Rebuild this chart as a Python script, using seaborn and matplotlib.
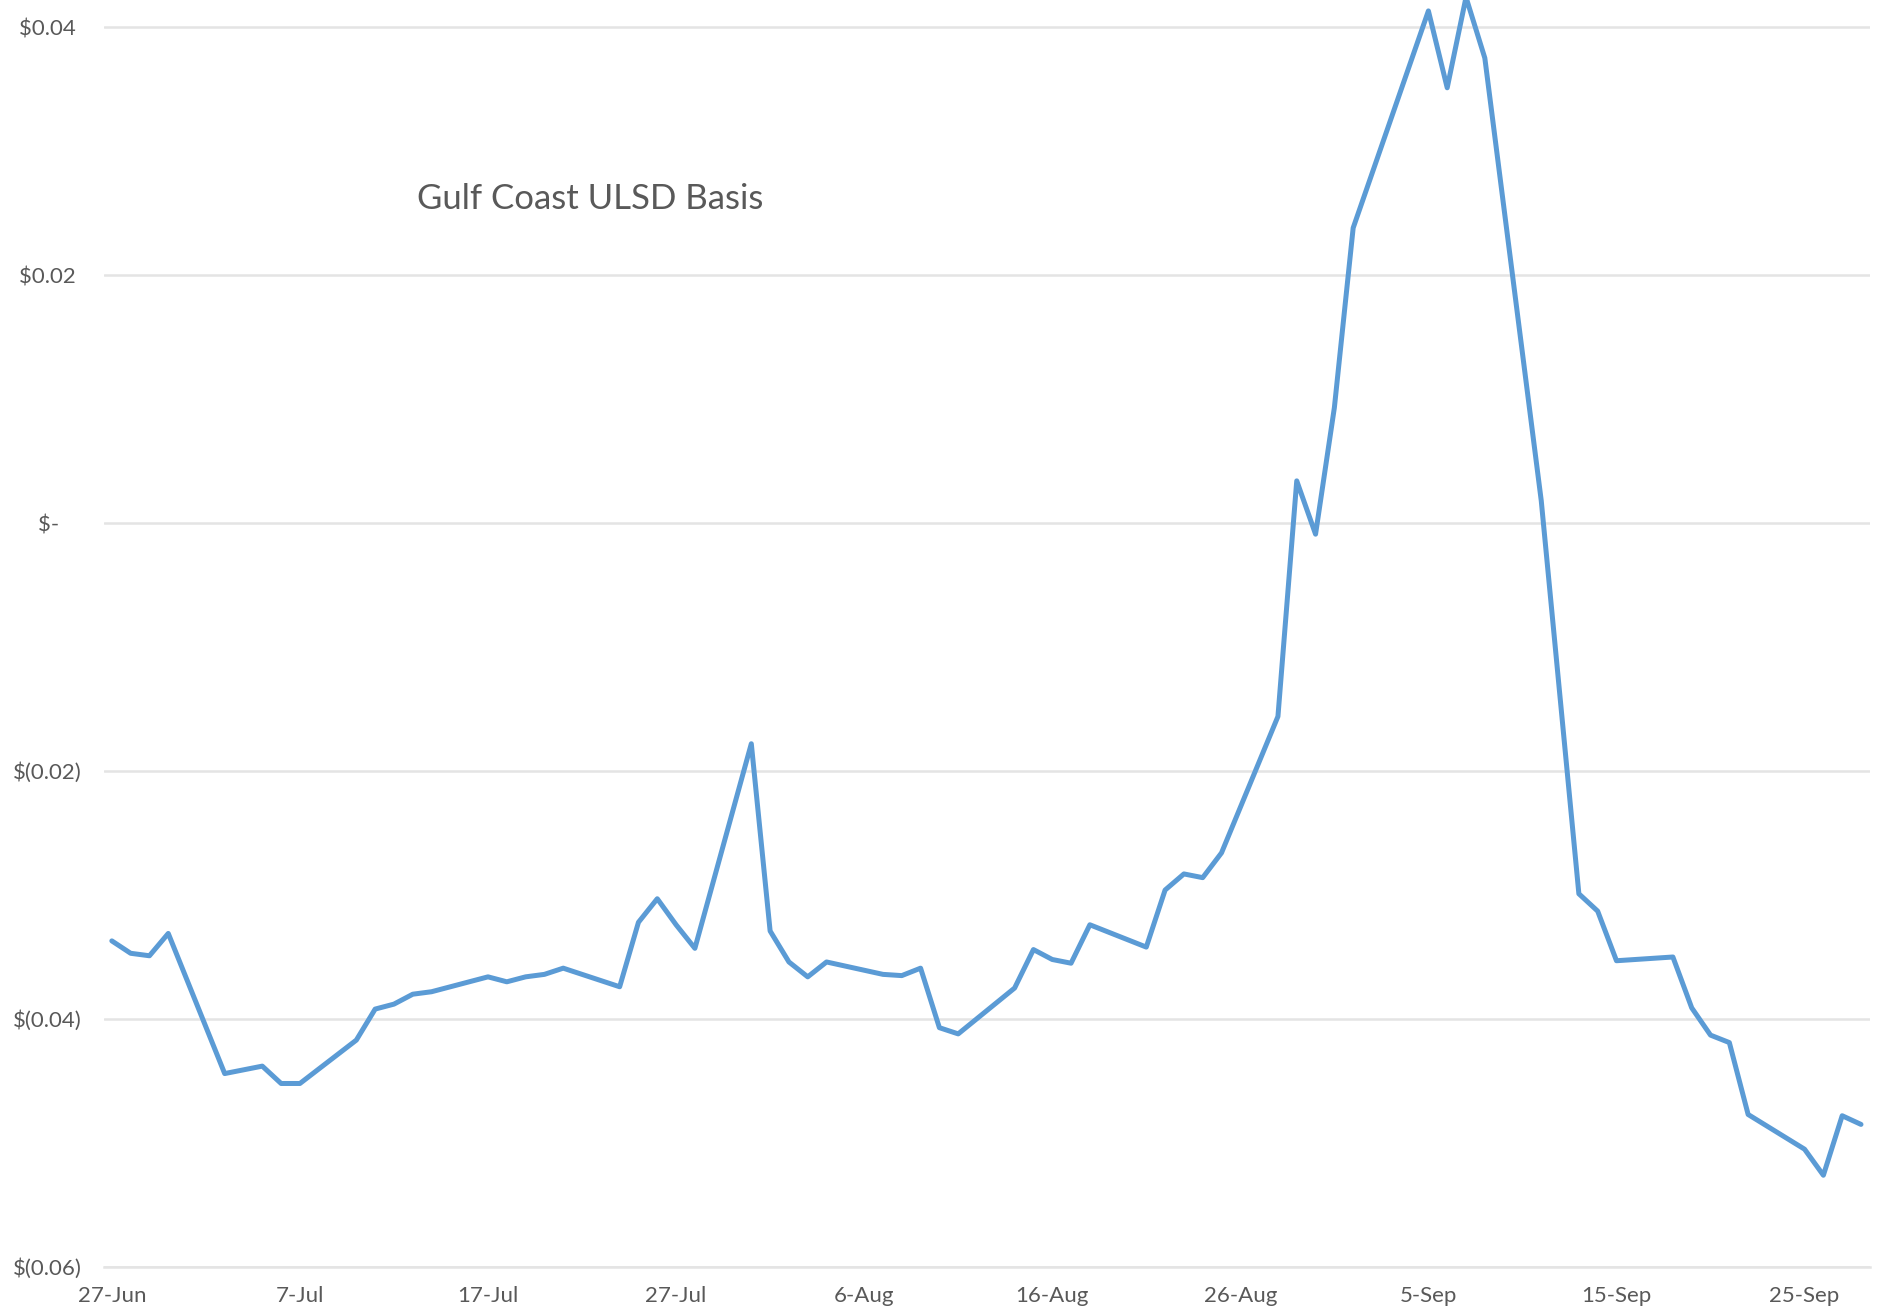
import matplotlib
matplotlib.use("Agg")
import matplotlib.pyplot as plt
import seaborn as sns
import pandas as pd

# ---- data (2017 business days) ----
dates = [
    "2017-06-27", "2017-06-28", "2017-06-29", "2017-06-30",
    "2017-07-03", "2017-07-05", "2017-07-06", "2017-07-07",
    "2017-07-10", "2017-07-11", "2017-07-12", "2017-07-13", "2017-07-14",
    "2017-07-17", "2017-07-18", "2017-07-19", "2017-07-20", "2017-07-21",
    "2017-07-24", "2017-07-25", "2017-07-26", "2017-07-27", "2017-07-28",
    "2017-07-31", "2017-08-01", "2017-08-02", "2017-08-03", "2017-08-04",
    "2017-08-07", "2017-08-08", "2017-08-09", "2017-08-10", "2017-08-11",
    "2017-08-14", "2017-08-15", "2017-08-16", "2017-08-17", "2017-08-18",
    "2017-08-21", "2017-08-22", "2017-08-23", "2017-08-24", "2017-08-25",
    "2017-08-28", "2017-08-29", "2017-08-30", "2017-08-31", "2017-09-01",
    "2017-09-05", "2017-09-06", "2017-09-07", "2017-09-08",
    "2017-09-11", "2017-09-13", "2017-09-14", "2017-09-15",
    "2017-09-18", "2017-09-19", "2017-09-20", "2017-09-21", "2017-09-22",
    "2017-09-25", "2017-09-26", "2017-09-27", "2017-09-28",
]
basis = [
    -0.0337, -0.0347, -0.0349, -0.0331,
    -0.0444, -0.0438, -0.0452, -0.0452,
    -0.0417, -0.0392, -0.0388, -0.0380, -0.0378,
    -0.0366, -0.0370, -0.0366, -0.0364, -0.0359,
    -0.0374, -0.0322, -0.0303, -0.0324, -0.0343,
    -0.0178, -0.0329, -0.0354, -0.0366, -0.0354,
    -0.0364, -0.0365, -0.0359, -0.0407, -0.0412,
    -0.0375, -0.0344, -0.0352, -0.0355, -0.0324,
    -0.0342, -0.0296, -0.0283, -0.0286, -0.0266,
    -0.0156, 0.0034, -0.0009, 0.0093, 0.0238,
    0.0413, 0.0351, 0.0424, 0.0375,
    0.0018, -0.0299, -0.0313, -0.0353,
    -0.0350, -0.0391, -0.0413, -0.0419, -0.0477,
    -0.0505, -0.0526, -0.0478, -0.0485,
]
y_ticks = [-0.06, -0.04, -0.02, 0.0, 0.02, 0.04]
y_labels = ["$(0.06)", "$(0.04)", "$(0.02)", "$-    ", "$0.02 ", "$0.04 "]
x_tick_dates = ["2017-06-27", "2017-07-07", "2017-07-17", "2017-07-27", "2017-08-06",
                "2017-08-16", "2017-08-26", "2017-09-05", "2017-09-15", "2017-09-25"]
x_tick_labels = ["27-Jun", "7-Jul", "17-Jul", "27-Jul", "6-Aug",
                 "16-Aug", "26-Aug", "5-Sep", "15-Sep", "25-Sep"]
title = "Gulf Coast ULSD Basis"

# ---- plot ----
sns.set_theme(style="white")
plt.rcParams['font.family'] = ['Lato', 'DejaVu Sans']

W, H = 1883, 1312
fig = plt.figure(figsize=(W / 100, H / 100), dpi=100)
ax = fig.add_axes([104 / W, 45 / H, (1870 - 104) / W, 1 - 45 / H])

df = pd.DataFrame({"date": pd.to_datetime(dates), "basis": basis})
sns.lineplot(data=df, x="date", y="basis", ax=ax, color="#5B9BD5", linewidth=3.6)

start = pd.Timestamp("2017-06-27") - pd.Timedelta(hours=10)
end = pd.Timestamp("2017-09-28") + pd.Timedelta(hours=11.5)
ax.set_xlim(start, end)
ax.set_ylim(-0.06, 0.04218)

ax.set_yticks(y_ticks)
ax.set_yticklabels(y_labels)
ax.set_xticks(pd.to_datetime(x_tick_dates))
ax.set_xticklabels(x_tick_labels)

ax.set_xlabel("")
ax.set_ylabel("")
ax.yaxis.grid(True, color="#e4e4e4", linewidth=1.8)
ax.xaxis.grid(False)
for s in ["top", "right", "left"]:
    ax.spines[s].set_visible(False)
ax.spines["bottom"].set_color("#e4e4e4")
ax.spines["bottom"].set_linewidth(1.8)

ax.tick_params(axis="both", length=0, labelsize=16, colors="#595959")
ax.tick_params(axis="y", pad=16)
ax.tick_params(axis="x", pad=14)

fig.text(417 / W, 1 - 199 / H, title, fontsize=25, color="#595959", va="center", ha="left")

fig.savefig("out.png", dpi=100, facecolor="white")
